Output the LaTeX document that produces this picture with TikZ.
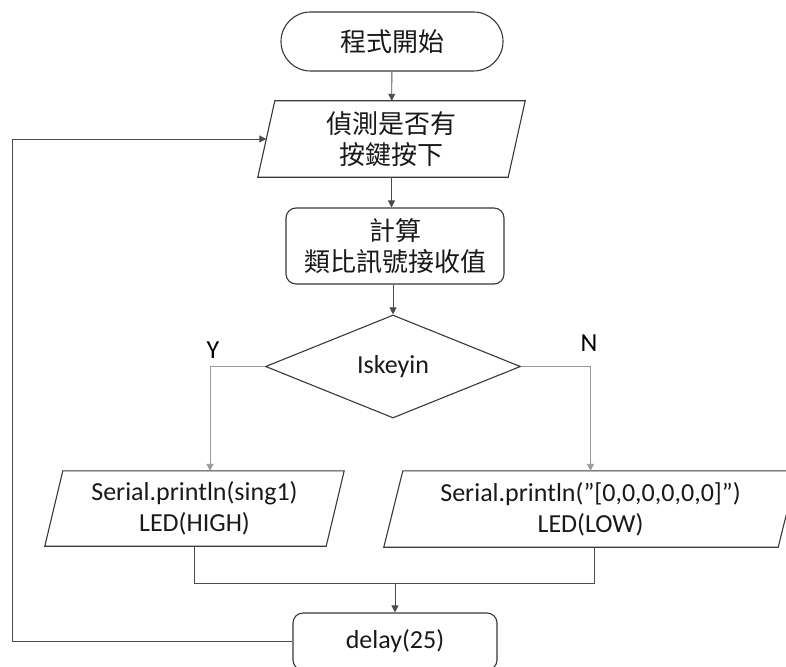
\documentclass[tikz,border=0pt]{standalone}
\usepackage{fontspec}
\setmainfont{Carlito}[Ligatures=Common]
\newfontfamily\cjk{Noto Sans CJK TC}
\usetikzlibrary{shapes.geometric,shapes.misc,arrows.meta}

\tikzset{
  outline/.style={draw=black!78, line width=1.1pt},
  txt/.style={font=\fontsize{26}{31}\selectfont, text=black!90, align=center, inner sep=0pt},
  termbox/.style={outline, txt, rounded rectangle, minimum width=222pt, minimum height=59pt},
  procbox/.style={outline, txt, rectangle, rounded corners=10pt},
  iobox/.style={txt, rectangle},
  decbox/.style={outline, txt, diamond, minimum width=255pt, minimum height=103pt},
  line/.style={draw=black!70, line width=0.9pt},
  arr/.style={line, -{Triangle[length=7pt,width=7pt]}},
  branch/.style={draw=black!40},
  lbl/.style={font=\fontsize{26}{31}\selectfont, inner sep=0pt}
}

% outline of an input/output parallelogram around a named node
\newcommand\slantframe[2]{%
  \draw[outline] ([xshift=#2]#1.north west) -- ([xshift=#2]#1.north east)
    -- ([xshift=-#2]#1.south east) -- ([xshift=-#2]#1.south west) -- cycle;}

\begin{document}
\begin{tikzpicture}[x=1pt,y=-1pt]
\clip (0,0) rectangle (786,666);

% nodes
\node[termbox] (start) at (392,41.5) {\cjk 程式開始};
\node[iobox, minimum width=250pt, minimum height=76pt] (detect) at (391.5,139) {\cjk 偵測是否有\\\cjk 按鍵按下};
\slantframe{detect}{8.5pt}
\node[procbox, minimum width=218pt, minimum height=76pt] (calc) at (395,246) {\cjk 計算\\\cjk 類比訊號接收值};
\node[decbox] (cond) at (393,366.5) {Iskeyin};
\node[iobox, minimum width=281pt, minimum height=75pt] (outY) at (194.5,508.5) {Serial.println(sing1)\\LED(HIGH)};
\slantframe{outY}{9pt}
\node[iobox, minimum width=394pt, minimum height=76pt] (outN) at (590.5,509) {Serial.println("[0,0,0,0,0,0]")\\LED(LOW)};
\slantframe{outN}{9.5pt}
\node[procbox, minimum width=204pt, minimum height=57pt] (wait) at (395,641.5) {delay(25)};

\node[lbl] (ylab) at (213,350) {Y};
\node[lbl] (nlab) at (589,343) {N};

% junction points
\coordinate (yturn) at (210,366.5);
\coordinate (nturn) at (590.5,366.5);
\coordinate (jl) at (194.5,583);
\coordinate (jr) at (594,583);
\coordinate (loopc) at (12,139);

% connectors
\draw[arr] (start) -- (detect);
\draw[arr] (detect.south) -- (detect.south |- calc.north);
\draw[arr] (cond.north |- calc.south) -- (cond.north);
\draw[arr, branch] (cond.west) -- (yturn) -- (yturn |- outY.north);
\draw[arr, branch] (cond.east) -- (nturn) -- (outN.north);
\draw[line] (outY.south) -- (jl) -- (jr) -- (jr |- outN.south);
\draw[arr] (wait.north |- jl) -- (wait.north);
\draw[arr] (wait.west) -| (loopc) -- (detect.west);
\end{tikzpicture}
\end{document}
